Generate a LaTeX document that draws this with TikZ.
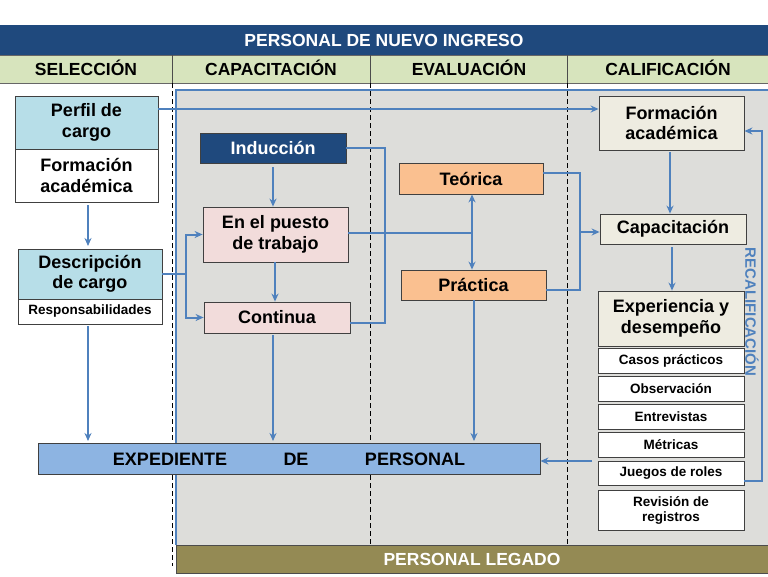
\documentclass[tikz,border=0pt]{standalone}
\usepackage{fontspec}
\setmainfont{Liberation Sans}
\usetikzlibrary{arrows.meta}
\definecolor{dblue}{HTML}{1F497D}
\definecolor{lgreen}{HTML}{D7E4BD}
\definecolor{olive}{HTML}{948A54}
\definecolor{lblue}{HTML}{B7DEE8}
\definecolor{pinkc}{HTML}{F2DCDB}
\definecolor{orangec}{HTML}{FAC090}
\definecolor{beige}{HTML}{EEECE1}
\definecolor{mblue}{HTML}{8DB4E2}
\definecolor{conn}{HTML}{4F81BD}
\definecolor{panel}{HTML}{DDDDDA}
\tikzset{
 box/.style={draw=black!75, line width=0.8pt, font=\bfseries\fontsize{18}{20.5}\selectfont, align=center, inner sep=0pt},
 sbox/.style={draw=black!75, line width=0.8pt, fill=white, font=\bfseries\fontsize{13.5}{15}\selectfont, align=center, inner sep=0pt},
 hdr/.style={font=\bfseries\fontsize{17.5}{19}\selectfont},
 ar/.style={draw=conn, line width=2pt, -{Stealth[length=8pt,width=7pt]}},
 ln/.style={draw=conn, line width=2pt},
 dsh/.style={black, line width=1pt, dash pattern=on 5pt off 3pt},
}
\begin{document}
\begin{tikzpicture}[x=1pt,y=-1pt]
\useasboundingbox (0,0) rectangle (768,576);
\fill[white] (0,0) rectangle (768,576);
% title
\fill[dblue] (0,25) rectangle (768,55);
\node[text=white, hdr] (title) at (384,40) {PERSONAL DE NUEVO INGRESO};
\fill[lgreen] (0,55) rectangle (768,83);
\draw[black!60] (0,55) -- (768,55) (0,83) -- (768,83);
\draw[black!70] (172,55) -- (172,83) (370,55) -- (370,83) (567,55) -- (567,83);
\node[hdr] (h1) at (86,68) {SELECCIÓN};
\node[hdr] (h2) at (271,68) {CAPACITACIÓN};
\node[hdr] (h3) at (469,68) {EVALUACIÓN};
\node[hdr] (h4) at (668,68) {CALIFICACIÓN};
% panel
\fill[panel] (176,90) rectangle (768,545);
\draw[conn, line width=1.5pt] (176,545) -- (176,90) -- (768,90);
\fill[olive] (176,545) rectangle (768,573);
\draw[black!70] (176,545) rectangle (768,573);
\node[text=white, hdr] (legado) at (472,559) {PERSONAL LEGADO};
\draw[dsh] (172,83) -- (172,566);
\draw[dsh] (370,83) -- (370,545);
\draw[dsh] (567,83) -- (567,545);
% left boxes
\node[box, fill=lblue, minimum width=143, minimum height=53] (perfil) at (86.5,122.5) {Perfil de\\cargo};
\node[box, fill=white, minimum width=143, minimum height=53] (forml) at (86.5,175.5) {Formación\\académica};
\node[box, fill=lblue, minimum width=144, minimum height=50] (desc) at (90,274) {Descripción\\de cargo};
\node[sbox, minimum width=144, minimum height=25] (resp) at (90,311.5) {Responsabilidades};
% capacitacion
\node[box, fill=dblue, text=white, minimum width=146, minimum height=30] (ind) at (273,148) {Inducción};
\node[box, fill=pinkc, minimum width=145, minimum height=55] (puesto) at (275.5,234.5) {En el puesto\\de trabajo};
\node[box, fill=pinkc, minimum width=146, minimum height=31] (cont) at (277,317.5) {Continua};
% evaluacion
\node[box, fill=orangec, minimum width=144, minimum height=31] (teo) at (471,178.5) {Teórica};
\node[box, fill=orangec, minimum width=145, minimum height=30] (prac) at (473.5,285) {Práctica};
% calificacion
\node[box, fill=beige, minimum width=145, minimum height=54] (formr) at (671.5,123) {Formación\\académica};
\node[box, fill=beige, minimum width=146, minimum height=30] (capr) at (673,229) {Capacitación};
\node[box, fill=beige, minimum width=146, minimum height=55] (exp) at (671,318.5) {Experiencia y\\desempeño};
\node[sbox, minimum width=146, minimum height=25] (casos) at (671,360.5) {Casos prácticos};
\node[sbox, minimum width=146, minimum height=25] (obs) at (671,388.5) {Observación};
\node[sbox, minimum width=146, minimum height=25] (entr) at (671,416.5) {Entrevistas};
\node[sbox, minimum width=146, minimum height=25] (metr) at (671,444.5) {Métricas};
\node[sbox, minimum width=146, minimum height=24] (jueg) at (671,473) {Juegos de roles};
\node[sbox, minimum width=146, minimum height=40] (rev) at (671,510) {Revisión de\\registros};
% expediente
\node[box, fill=mblue, minimum width=502, minimum height=31] (expd) at (289,458.5) {};
\node[font=\bfseries\fontsize{18}{20}\selectfont] (e1) at (170,459) {EXPEDIENTE};
\node[font=\bfseries\fontsize{18}{20}\selectfont] (e2) at (296,459) {DE};
\node[font=\bfseries\fontsize{18}{20}\selectfont] (e3) at (415,459) {PERSONAL};
% connectors
\draw[ar] (perfil.east |- 0,109) -- (formr.west |- 0,109);
\draw[ar] (88,205) -- (88,246);
\draw[ar] (88,326) -- (88,441);
\draw[ln] (desc.east) -- (186,274);
\draw[ar] (186,278) |- (puesto.west);
\draw[ar] (186,278) |- (cont.west);
\draw[ar] (273,167) -- (puesto.north -| 273,0);
\draw[ar] (275,262) -- (cont.north -| 275,0);
\draw[ln] (ind.east) -| (385,323) -- (cont.east |- 0,323);
\coordinate (mid) at (472,233);
\draw[ln] (puesto.east |- mid) -- (mid);
\draw[ar] (mid) -- (teo.south -| mid);
\draw[ar] (mid) -- (prac.north -| mid);
\draw[ar] (273,335) -- (273,441);
\draw[ar] (prac.south -| 474,0) -- (474,441);
\draw[ln] (teo.east |- 0,173) -| (580,290) -- (prac.east |- 0,290);
\draw[ar] (580,232) -- (capr.west |- 0,232);
\draw[ar] (670,152) -- (capr.north -| 670,0);
\draw[ar] (672,247) -- (exp.north -| 672,0);
\draw[ar] (592,461) -- (expd.east |- 0,461);
\draw[ar] (jueg.east |- 0,481) -- (762,481) -- (762,131) -- (formr.east |- 0,131);
\node[rotate=-90, text=conn, font=\bfseries\fontsize{15}{16}\selectfont] (recal) at (752,312) {RECALIFICACIÓN};
\end{tikzpicture}
\end{document}
